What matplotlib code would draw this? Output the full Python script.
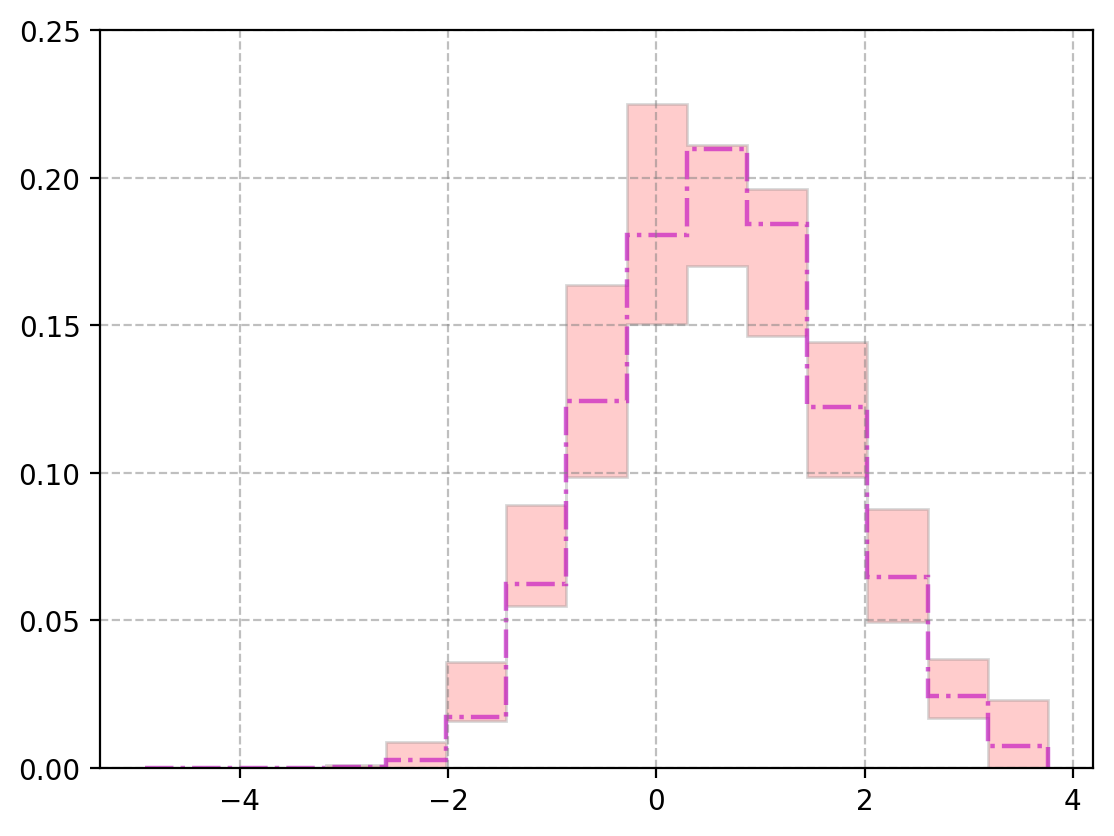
import numpy as np
import matplotlib.pyplot as plt

# bin edges (15 bins) and per-bin values
bin_edges = np.linspace(-4.91, 3.76, 16)
center_vals = [0.0, 0.0, 0.0, 0.0004, 0.0028, 0.0172, 0.0622, 0.1243, 0.1806,
               0.2098, 0.1843, 0.1223, 0.0648, 0.0244, 0.0075]
upper_vals = [0.0, 0.0, 0.0, 0.0010, 0.0088, 0.0359, 0.0891, 0.1636, 0.2249,
              0.2110, 0.1962, 0.1443, 0.0877, 0.0369, 0.0230]
lower_vals = [0.0, 0.0, 0.0, 0.0, 0.0, 0.0159, 0.0549, 0.0986, 0.1503,
              0.1700, 0.1463, 0.0986, 0.0495, 0.0169, 0.0]

fig = plt.figure(figsize=(5.57, 4.185), dpi=200)
ax = fig.add_axes([0.0898, 0.0812, 0.8914, 0.8818])

# uncertainty band
ax.stairs(upper_vals, bin_edges, baseline=lower_vals, fill=True,
          facecolor=(1.0, 0.0, 0.0, 0.2), edgecolor=(0.5, 0.5, 0.5, 0.3),
          linewidth=1)
# central histogram
ax.stairs(center_vals, bin_edges, color='m', alpha=0.6, linestyle='-.',
          linewidth=1.6)

ax.set_ylim(0, 0.25)
ax.grid(True, linestyle='--', color='grey', alpha=0.5)

fig.savefig('out.png', dpi=200)
